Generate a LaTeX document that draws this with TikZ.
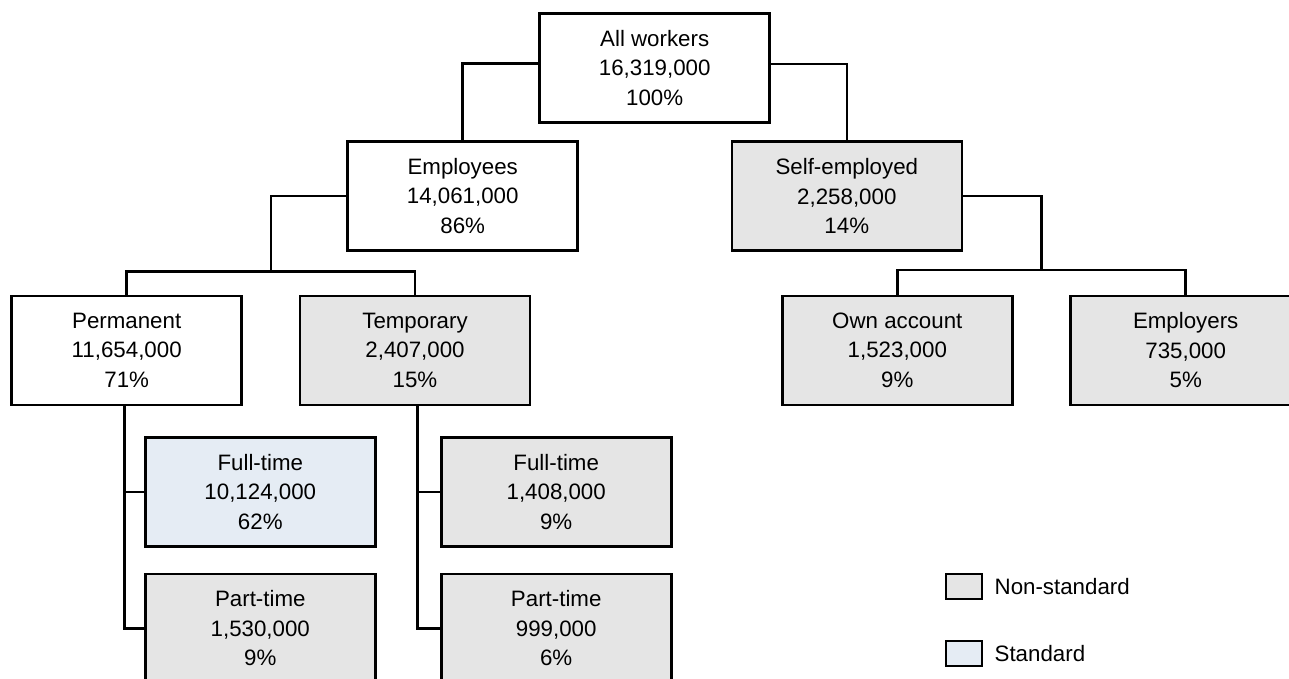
\documentclass[tikz,border=0pt]{standalone}
\usepackage{fontspec}
\setmainfont{Liberation Sans}
\definecolor{nsgray}{RGB}{229,229,229}
\definecolor{stdblue}{RGB}{229,236,244}
\begin{document}
\begin{tikzpicture}[x=1pt,y=-1pt,
  box/.style={draw=black, line width=2.6pt, minimum width=230pt, minimum height=109pt,
    inner sep=0pt, align=center, font=\fontsize{22.3}{29.5}\selectfont},
  wbox/.style={box, fill=white},
  nsbox/.style={box, fill=nsgray},
  stbox/.style={box, fill=stdblue},
  conn/.style={line width=2.5pt, line join=miter},
  legbox/.style={draw=black, line width=2.5pt, minimum width=36pt, minimum height=25pt, inner sep=0pt},
  legtext/.style={anchor=west, inner sep=0pt, font=\fontsize{22.3}{26}\selectfont}]
\useasboundingbox (0,0) rectangle (1289,679);
\clip (0,0) rectangle (1289,679);
\fill[white] (0,0) rectangle (1289,679);

% boxes
\node[wbox]  (aw)   at (654.7,68)    {All workers\\16,319,000\\100\%};
\node[wbox]  (emp)  at (462.7,196)   {Employees\\14,061,000\\86\%};
\node[nsbox] (self) at (846.8,196)   {Self-employed\\2,258,000\\14\%};
\node[wbox]  (perm) at (126.7,350.3) {Permanent\\11,654,000\\71\%};
\node[nsbox] (temp) at (415,350.3)   {Temporary\\2,407,000\\15\%};
\node[nsbox] (own)  at (897.3,350.3) {Own account\\1,523,000\\9\%};
\node[nsbox] (empl) at (1185.7,350.3){Employers\\735,000\\5\%};
\node[stbox] (pft)  at (260.3,492)   {Full-time\\10,124,000\\62\%};
\node[nsbox] (ppt)  at (260.3,628.5) {Part-time\\1,530,000\\9\%};
\node[nsbox] (tft)  at (556.2,492)   {Full-time\\1,408,000\\9\%};
\node[nsbox] (tpt)  at (556.2,628.5) {Part-time\\999,000\\6\%};

% bar junctions
\coordinate (ebar) at (270.8,271.3);
\coordinate (sbar) at (1041.5,269.8);

% connectors
\draw[conn] ([yshift=4.4pt]aw.west) -| (emp.north);
\draw[conn] ([yshift=4.2pt]aw.east) -| (self.north);
\draw[conn] (emp.west) -| (ebar);
\draw[conn] (perm.north) |- (ebar) -| (temp.north);
\draw[conn] (self.east) -| (sbar);
\draw[conn] (own.north) |- (sbar) -| (empl.north);
\draw[conn] ([xshift=-2.4pt]perm.south) |- (ppt.west);
\draw[conn] ([xshift=-2.4pt]perm.south |- pft.west) -- (pft.west);
\draw[conn] ([xshift=2.3pt]temp.south) |- (tpt.west);
\draw[conn] ([xshift=2.3pt]temp.south |- tft.west) -- (tft.west);

% legend
\node[legbox, fill=nsgray]  (lns) at (964.2,586.7) {};
\node[legbox, fill=stdblue] (lst) at (964.2,653.3) {};
\node[legtext] (lnst) at ([xshift=11pt]lns.east) {Non-standard};
\node[legtext] (lstt) at ([xshift=11pt]lst.east) {Standard};
\end{tikzpicture}
\end{document}
